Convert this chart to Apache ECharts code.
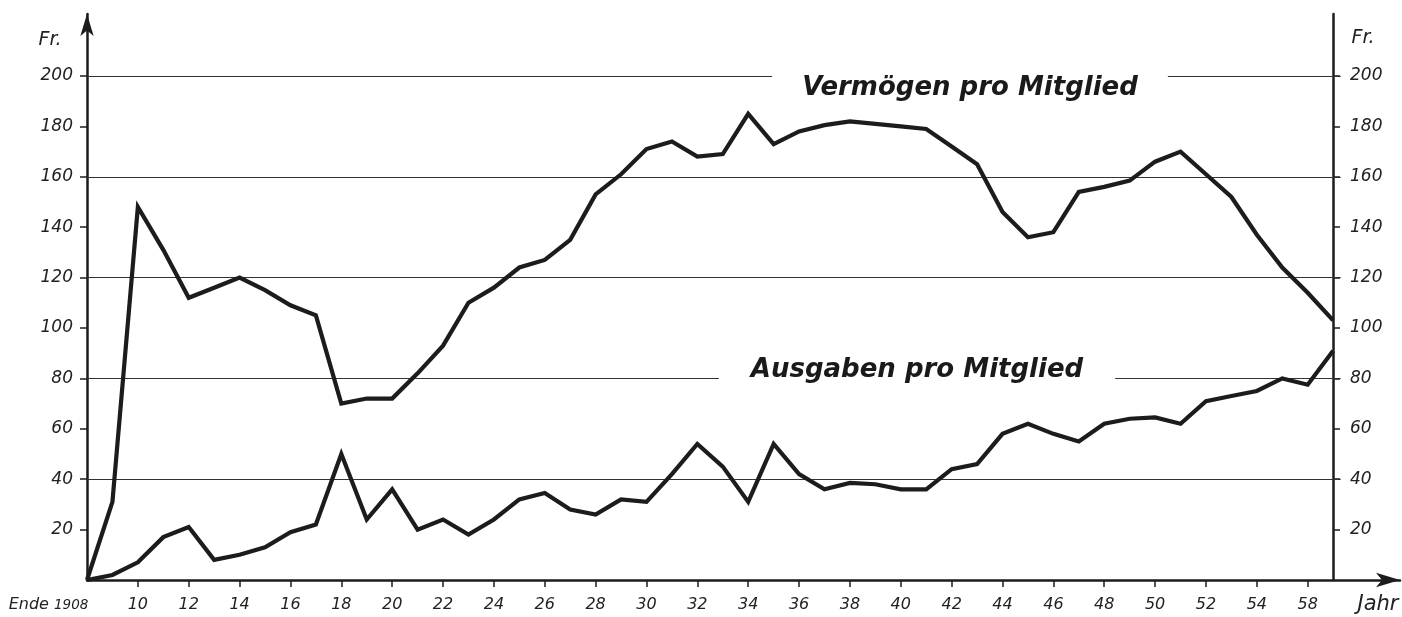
<!DOCTYPE html>
<html>
<head>
<meta charset="utf-8">
<script src="https://cdn.jsdelivr.net/npm/echarts@6/dist/echarts.min.js"></script>
<style>
html,body{margin:0;padding:0;background:#fff;}
#c{width:1402px;height:617px;}
</style>
</head>
<body>
<div id="c"></div>
<script>
// ---- data ----
const years = [];
for (let y = 1908; y <= 1957; y++) years.push(y);
const vermoegen = [0, 31, 148, 131, 112, 116, 120, 115, 109, 105,
                   70, 72, 72, 82, 93, 110, 116, 124, 127, 135,
                   153, 161, 171, 174, 168, 169, 185, 173, 178, 180.5,
                   182, 181, 180, 179, 172, 165, 146, 136, 138, 154,
                   156, 158.5, 166, 170, 161, 152, 137, 124, 114, 103];
const ausgaben = [0, 2, 7, 17, 21, 8, 10, 13, 19, 22,
                  50, 24, 36, 20, 24, 18, 24, 32, 34.5, 28,
                  26, 32, 31, 42, 54, 45, 31, 54, 42, 36,
                  38.5, 38, 36, 36, 44, 46, 58, 62, 58, 55,
                  62, 64, 64.5, 62, 71, 73, 75, 80, 77.5, 91];
const xTickYears = [1908,1910,1912,1914,1916,1918,1920,1922,1924,1926,1928,1930,1932,1934,1936,1938,1940,1942,1944,1946,1948,1950,1952,1954,1956];
const xTickLabels = ['1908','10','12','14','16','18','20','22','24','26','28','30','32','34','36','38','40','42','44','46','48','50','52','54','58'];
const firstLabelPrefix = 'Ende';
const yTickValues = [20,40,60,80,100,120,140,160,180,200];
const gridValues = [40,80,120,160,200];
const seriesNames = ['Vermögen pro Mitglied', 'Ausgaben pro Mitglied'];
const unitLabel = 'Fr.';
const xAxisTitle = 'Jahr';

// ---- chart ----
const chart = echarts.init(document.getElementById('c'), null, {renderer: 'canvas'});
const labelFont = {fontStyle: 'italic', fontFamily: 'DejaVu Sans', fontSize: 17, color: '#222'};
const ink = '#1c1c1c';

const yAxisCommon = {
  type: 'value', min: 0, max: 224.6, interval: 20,
  splitLine: {show: false},
  axisLabel: Object.assign({customValues: yTickValues,
    formatter: v => (v >= 20 && v <= 200) ? String(v) : ''}, labelFont),
  axisTick: {show: true, customValues: yTickValues, length: 7, lineStyle: {color: ink, width: 1.5}}
};

const option = {
  animation: false,
  backgroundColor: '#fff',
  grid: {left: 87, right: 2, top: 14, bottom: 37, containLabel: false},
  xAxis: {
    type: 'value', min: 1908, max: 1959.63, interval: 2,
    splitLine: {show: false},
    axisLine: {show: true, lineStyle: {color: ink, width: 2.5}, symbol: ['none', 'arrow'], symbolSize: [11, 24]},
    axisTick: {show: true, customValues: xTickYears.slice(1), length: 7, lineStyle: {color: ink, width: 1.5}},
    axisLabel: Object.assign({}, labelFont, {
      fontSize: 16,
      customValues: xTickYears, margin: 17,
      formatter: v => {
        const i = xTickYears.indexOf(v);
        if (i < 0) return '';
        return i === 0 ? '{e|' + firstLabelPrefix + ' }{n|' + xTickLabels[i] + '}' : xTickLabels[i];
      },
      rich: {
        e: {fontStyle: 'italic', fontFamily: 'DejaVu Sans', fontSize: 16, color: '#222'},
        n: {fontStyle: 'italic', fontFamily: 'DejaVu Sans', fontSize: 13.5, color: '#222', padding: [0, 77, 0, 0]}
      }
    })
  },
  yAxis: [
    Object.assign({}, yAxisCommon, {
      position: 'left',
      axisLine: {show: true, lineStyle: {color: ink, width: 2.5}, symbol: ['none', 'arrow'], symbolSize: [10, 22]},
      axisLabel: Object.assign({}, yAxisCommon.axisLabel, {margin: 14})
    }),
    Object.assign({}, yAxisCommon, {
      position: 'right', offset: -67,
      axisLine: {show: true, lineStyle: {color: ink, width: 2.5}},
      axisLabel: Object.assign({}, yAxisCommon.axisLabel, {margin: 17})
    })
  ],
  series: [
    {
      name: seriesNames[0], type: 'line', symbol: 'none',
      data: years.map((y, i) => [y, vermoegen[i]]),
      lineStyle: {color: ink, width: 4.2, join: 'miter'},
      z: 5,
      markLine: {
        silent: true, symbol: 'none', label: {show: false},
        lineStyle: {color: '#333', width: 1.2, type: 'solid'},
        data: gridValues.map(v => [{coord: [1908, v]}, {coord: [1957.3, v]}]),
        z: 1
      }
    },
    {
      name: seriesNames[1], type: 'line', symbol: 'none',
      data: years.map((y, i) => [y, ausgaben[i]]),
      lineStyle: {color: ink, width: 4.2, join: 'miter'},
      z: 5
    }
  ],
  graphic: [
    {type: 'text', z: 100, x: 970, y: 88, style: {text: seriesNames[0], x: 0, y: 0, align: 'center', verticalAlign: 'middle',
      font: 'italic bold 26px "DejaVu Sans"', fill: '#1a1a1a', backgroundColor: '#fff', padding: [12, 30, 6, 30]}},
    {type: 'text', z: 100, x: 917, y: 370, style: {text: seriesNames[1], x: 0, y: 0, align: 'center', verticalAlign: 'middle',
      font: 'italic bold 26px "DejaVu Sans"', fill: '#1a1a1a', backgroundColor: '#fff', padding: [6, 32, 12, 32]}},
    {type: 'text', z: 100, x: 50, y: 40, style: {text: unitLabel, align: 'center', verticalAlign: 'middle',
      font: 'italic 19px "DejaVu Sans"', fill: '#222'}},
    {type: 'text', z: 100, x: 1363, y: 38, style: {text: unitLabel, align: 'center', verticalAlign: 'middle',
      font: 'italic 19px "DejaVu Sans"', fill: '#222'}},
    {type: 'text', z: 100, x: 1378, y: 605, style: {text: xAxisTitle, align: 'center', verticalAlign: 'middle',
      font: 'italic 21px "DejaVu Sans"', fill: '#222'}}
  ]
};
chart.setOption(option);
</script>
</body>
</html>
